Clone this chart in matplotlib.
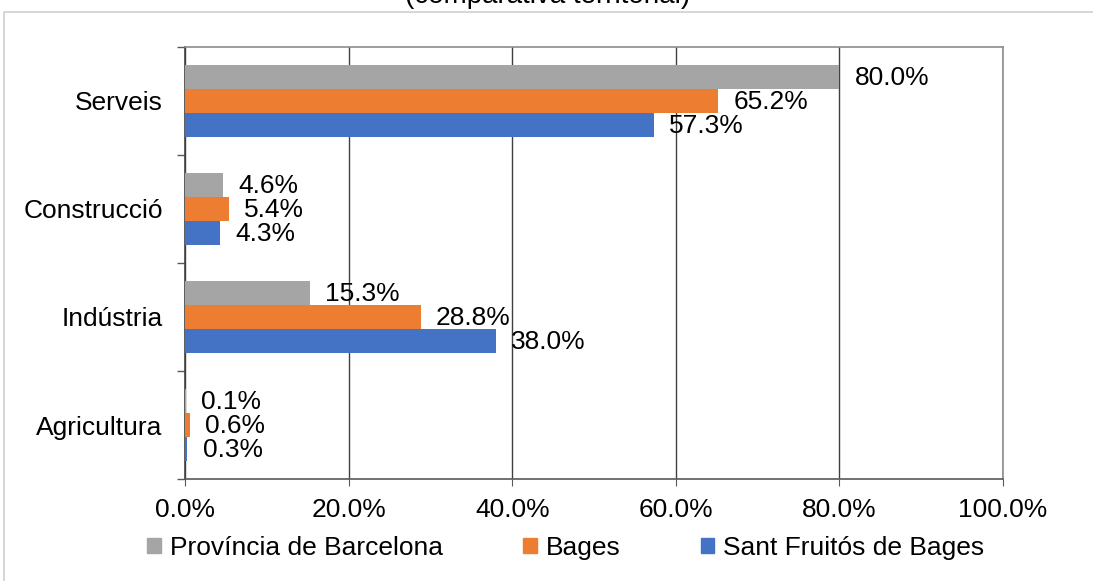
import matplotlib.pyplot as plt
from matplotlib.patches import Rectangle, Patch
import numpy as np

plt.rcParams["font.family"] = ["Liberation Sans", "DejaVu Sans"]

categories = ["Agricultura", "Indústria", "Construcció", "Serveis"]
series_names = ["Província de Barcelona", "Bages", "Sant Fruitós de Bages"]
barcelona = [0.1, 15.3, 4.6, 80.0]
bages = [0.6, 28.8, 5.4, 65.2]
sant_fruitos = [0.3, 38.0, 4.3, 57.3]
colors = ["#A5A5A5", "#ED7D31", "#4472C4"]

fig = plt.figure(figsize=(10.93, 5.81), dpi=100)
ax = fig.add_axes([185 / 1093, 1 - 479 / 581, 818 / 1093, 432 / 581])

# outer chart frame
fig.patches.append(Rectangle((4 / 1093, -0.1), 1.2, 1 - 12 / 581 + 0.1,
                             transform=fig.transFigure, fill=False,
                             edgecolor="#d0d0d0", linewidth=1.2))

fig.text(0.501, 1 - 9 / 581, "(comparativa territorial)", ha="center",
         va="bottom", fontsize=20)

y = np.arange(len(categories))
h = 0.222
offsets = [h, 0, -h]
for vals, off, col, name in zip([barcelona, bages, sant_fruitos], offsets, colors, series_names):
    bars = ax.barh(y + off, vals, height=h, color=col, label=name, zorder=3)
    for b, v in zip(bars, vals):
        ax.annotate(f"{v:.1f}%", (b.get_width(), b.get_y() + b.get_height() / 2),
                    xytext=(11, -1), textcoords="offset points", va="center",
                    ha="left", fontsize=19, zorder=4)

ax.set_xlim(0, 100)
ax.set_ylim(-0.5, 3.5)
ax.set_xticks([0, 20, 40, 60, 80, 100])
ax.set_xticklabels([f"{t:.1f}%" for t in [0, 20, 40, 60, 80, 100]])
ax.set_yticks(y)
ax.set_yticklabels(categories)
ax.set_yticks(np.arange(-0.5, 4, 1), minor=True)
ax.tick_params(axis="y", which="major", length=0, pad=16, labelsize=19)
ax.tick_params(axis="y", which="minor", length=6, color="#595959", width=1)
ax.tick_params(axis="x", which="major", length=5, color="#595959", pad=9, labelsize=19)

ax.xaxis.grid(True, color="#404040", linewidth=1, zorder=0)
ax.set_axisbelow(True)
ax.spines["left"].set_color("#404040")
ax.spines["bottom"].set_color("#595959")
ax.spines["top"].set_color("#8c8c8c")
ax.spines["right"].set_color("#8c8c8c")
for s in ax.spines.values():
    s.set_linewidth(1.2)

handles = [Patch(color=c) for c in colors]
fig.legend(handles, series_names, loc="center", bbox_to_anchor=(566 / 1093, 1 - 548 / 581),
           ncol=3, frameon=False, fontsize=19, handlelength=0.5, handleheight=0.5,
           handletextpad=0.35, columnspacing=3.05)

fig.savefig("out.png", dpi=100)
